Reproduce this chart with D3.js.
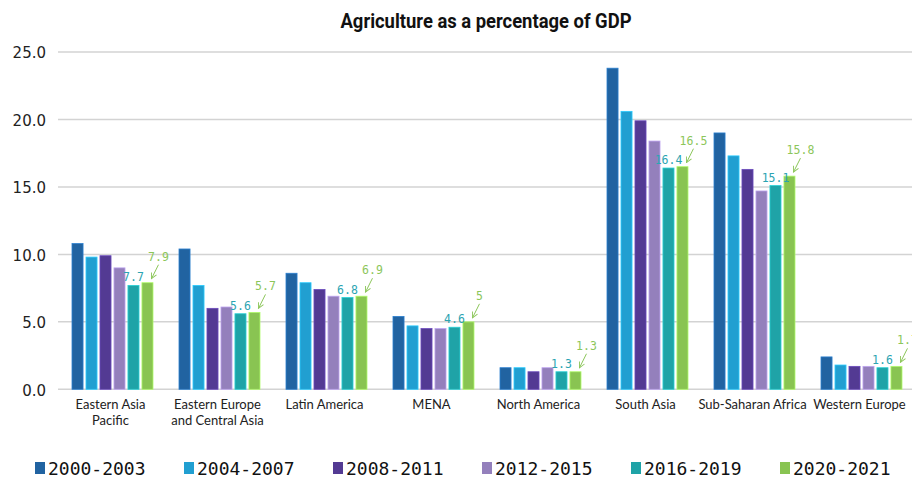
<!DOCTYPE html>
<html>
<head>
<meta charset="utf-8">
<script src="https://cdn.jsdelivr.net/npm/d3@7/dist/d3.min.js"></script>
<style>
  html, body { margin: 0; padding: 0; background: #ffffff; }
  svg { display: block; }
</style>
</head>
<body>
<svg id="chart" width="912" height="480"></svg>
<script>
// ---- data ----
const title = "Agriculture as a percentage of GDP";
const categories = ["Eastern Asia Pacific", "Eastern Europe and Central Asia", "Latin America", "MENA", "North America", "South Asia", "Sub-Saharan Africa", "Western Europe"];
const categoryLines = [["Eastern Asia", "Pacific"], ["Eastern Europe", "and Central Asia"], ["Latin America"], ["MENA"], ["North America"], ["South Asia"], ["Sub-Saharan Africa"], ["Western Europe"]];
const periods = ["2000-2003", "2004-2007", "2008-2011", "2012-2015", "2016-2019", "2020-2021"];
const s2000_2003 = [10.8, 10.4, 8.6, 5.4, 1.6, 23.8, 19.0, 2.4];
const s2004_2007 = [9.8, 7.7, 7.9, 4.7, 1.6, 20.6, 17.3, 1.8];
const s2008_2011 = [9.9, 6.0, 7.4, 4.5, 1.3, 19.9, 16.3, 1.7];
const s2012_2015 = [9.0, 6.1, 6.9, 4.5, 1.6, 18.4, 14.7, 1.7];
const s2016_2019 = [7.7, 5.6, 6.8, 4.6, 1.3, 16.4, 15.1, 1.6];
const s2020_2021 = [7.9, 5.7, 6.9, 5.0, 1.3, 16.5, 15.8, 1.7];
const yTicks = [0, 5, 10, 15, 20, 25];

const series = [s2000_2003, s2004_2007, s2008_2011, s2012_2015, s2016_2019, s2020_2021];
const colors = ["#2163a1", "#219fd1", "#533a93", "#9480bc", "#1fa3a7", "#89c452"];
const tealLabel = "#2ba4b2";
const greenLabel = "#8cc65a";

// ---- layout ----
const svg = d3.select("#chart");
const W = 912;
const x0 = d3.scaleBand().domain(categories).range([59, 915]).paddingInner(0.243).paddingOuter(0.1215);
const x1 = d3.scaleBand().domain(periods).range([0, x0.bandwidth()]).paddingInner(0.21).paddingOuter(0);
const y = d3.scaleLinear().domain([0, 25]).range([389.3, 52]);

// defs: arrow marker
const defs = svg.append("defs");
defs.append("marker")
  .attr("id", "arrow")
  .attr("viewBox", "0 0 10 10")
  .attr("refX", 9).attr("refY", 5)
  .attr("markerWidth", 7).attr("markerHeight", 7)
  .attr("orient", "auto")
  .attr("markerUnits", "userSpaceOnUse")
  .append("path")
  .attr("d", "M1,1 L9,5 L1,9")
  .attr("fill", "none")
  .attr("stroke", greenLabel)
  .attr("stroke-width", 1.3);

// title
const t = svg.append("text")
  .attr("x", 486).attr("y", 28)
  .attr("text-anchor", "middle")
  .style("font-family", "Roboto, 'Open Sans', sans-serif")
  .style("font-weight", 700)
  .style("font-size", "20px")
  .style("fill", "#111")
  .text(title);
if (t.node().getComputedTextLength() > 292) {
  t.attr("textLength", 291).attr("lengthAdjust", "spacingAndGlyphs");
}

// gridlines
svg.append("g").selectAll("line")
  .data(yTicks)
  .join("line")
  .attr("x1", 58).attr("x2", W)
  .attr("y1", d => y(d)).attr("y2", d => y(d))
  .attr("stroke", "#d3d3d3")
  .attr("stroke-width", 1.5);

// y axis labels
const yAxis = d3.axisLeft(y).tickValues(yTicks).tickFormat(d3.format(".1f")).tickSize(0).tickPadding(0);
const ya = svg.append("g").attr("transform", "translate(46,1)").call(yAxis);
ya.select(".domain").remove();
ya.selectAll("text")
  .style("font-family", "'DejaVu Sans', sans-serif")
  .style("font-size", "15px")
  .style("fill", "#222");

// bars
const groups = svg.append("g").selectAll("g")
  .data(categories)
  .join("g")
  .attr("transform", d => `translate(${x0(d)},0)`);

groups.selectAll("rect")
  .data((c, ci) => periods.map((p, pi) => ({ p, pi, v: series[pi][ci] })))
  .join("rect")
  .attr("x", d => x1(d.p))
  .attr("width", x1.bandwidth())
  .attr("y", d => y(d.v))
  .attr("height", d => y(0) - y(d.v))
  .attr("fill", d => colors[d.pi])
  .attr("stroke", d => d3.color(colors[d.pi]).brighter(0.7))
  .attr("stroke-width", 0.8);

// annotations: 2016-2019 (teal) and 2020-2021 (green with arrow)
const annFont = "'DejaVu Sans Mono', monospace";
categories.forEach((c, ci) => {
  const tv = s2016_2019[ci];
  const tx = x0(c) + x1(periods[4]) + x1.bandwidth() / 2;
  svg.append("text")
    .attr("x", tx).attr("y", y(tv) - 4)
    .attr("text-anchor", "middle")
    .style("font-family", annFont)
    .style("font-size", "11.5px")
    .style("fill", tealLabel)
    .text(String(tv));

  const gv = s2020_2021[ci];
  const gx = x0(c) + x1(periods[5]) + x1.bandwidth() / 2;
  const lx = gx + 11, ly = y(gv) - 22;
  svg.append("text")
    .attr("x", lx).attr("y", ly)
    .attr("text-anchor", "middle")
    .style("font-family", annFont)
    .style("font-size", "11.5px")
    .style("fill", greenLabel)
    .text(String(gv));
  svg.append("line")
    .attr("x1", lx).attr("y1", ly + 4)
    .attr("x2", gx + 4).attr("y2", y(gv) - 4)
    .attr("stroke", greenLabel)
    .attr("stroke-width", 1)
    .attr("marker-end", "url(#arrow)");
});

// category labels
const cl = svg.append("g").selectAll("text")
  .data(categories)
  .join("text")
  .attr("x", d => x0(d) + x0.bandwidth() / 2 - 2)
  .attr("y", 408.5)
  .attr("text-anchor", "middle")
  .style("font-family", "Lato, 'Open Sans', sans-serif")
  .style("font-size", "13px")
  .style("fill", "#222");
cl.selectAll("tspan")
  .data((d, i) => categoryLines[i])
  .join("tspan")
  .attr("x", function() { return d3.select(this.parentNode).attr("x"); })
  .attr("dy", (d, i) => i === 0 ? 0 : 16)
  .text(d => d);

// legend
const legend = svg.append("g").selectAll("g")
  .data(periods)
  .join("g")
  .attr("transform", (d, i) => `translate(${35 + i * 149},0)`);
legend.append("rect")
  .attr("x", 0).attr("y", 462)
  .attr("width", 10).attr("height", 12)
  .attr("fill", (d, i) => colors[i]);
legend.append("text")
  .attr("x", 13).attr("y", 475)
  .style("font-family", annFont)
  .style("font-size", "18px")
  .style("fill", "#111")
  .text(d => d);
</script>
</body>
</html>
